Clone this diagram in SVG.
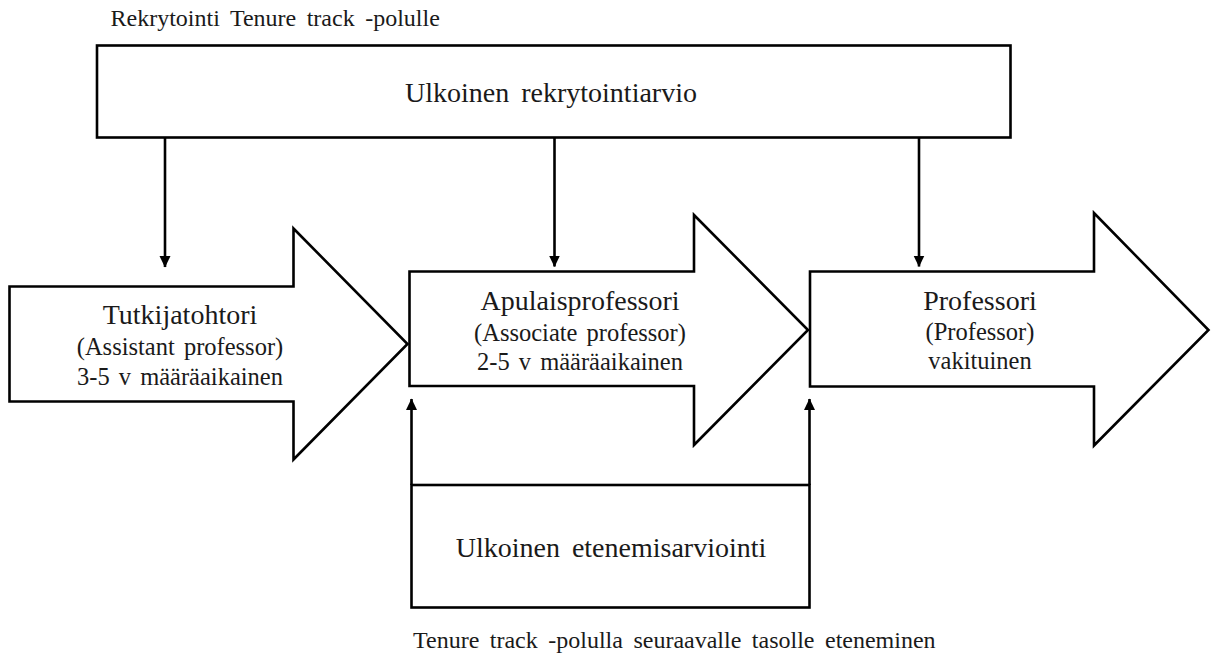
<svg xmlns="http://www.w3.org/2000/svg" width="1211" height="657" viewBox="0 0 1211 657">
  <style>
    .shape { fill: #ffffff; stroke: #000000; stroke-width: 2.6; stroke-linejoin: miter; }
    .line { fill: none; stroke: #000000; stroke-width: 2.6; }
    .t { font-family: "Liberation Serif", "Times New Roman", serif; fill: #1a1a1a; }
    .title { font-size: 28px; text-anchor: middle; word-spacing: 5px; }
    .sub { font-size: 24.5px; text-anchor: middle; word-spacing: 3px; }
    .cap { font-size: 24px; word-spacing: 4.5px; }
  </style>
  <defs>
    <marker id="ah" markerUnits="userSpaceOnUse" markerWidth="12" markerHeight="12" viewBox="0 0 12 12" refX="11" refY="6" orient="auto">
      <path d="M0,0.5 L11.5,6 L0,11.5 Z" fill="#000000"/>
    </marker>
  </defs>
  <rect width="1211" height="657" fill="#ffffff"/>

  <text class="t cap" x="110.5" y="26">Rekrytointi Tenure track -polulle</text>

  <g id="recruit">
    <rect class="shape" x="97" y="45.5" width="913.5" height="92"/>
    <text class="t title" x="551" y="101.5">Ulkoinen rekrytointiarvio</text>
  </g>

  <g id="tutkijatohtori">
    <path class="shape" d="M9.5,286.5 H293.5 V228.5 L407.5,344 L293.5,459.5 V401.5 H9.5 Z"/>
    <text class="t title" x="180" y="324">Tutkijatohtori</text>
    <text class="t sub" x="180" y="354.5">(Assistant professor)</text>
    <text class="t sub" x="180" y="384.5">3-5 v määräaikainen</text>
  </g>

  <g id="apulaisprofessori">
    <path class="shape" d="M409.5,271.5 H694 V215 L808,330 L694,445 V386 H409.5 Z"/>
    <text class="t title" x="580" y="309.5">Apulaisprofessori</text>
    <text class="t sub" x="580" y="341">(Associate professor)</text>
    <text class="t sub" x="580" y="369.5">2-5 v määräaikainen</text>
  </g>

  <g id="professori">
    <path class="shape" d="M810,271.5 H1094 V213 L1208.5,330 L1094,445.5 V386.5 H810 Z"/>
    <text class="t title" x="980" y="309.5">Professori</text>
    <text class="t sub" x="980" y="339.5">(Professor)</text>
    <text class="t sub" x="980" y="369">vakituinen</text>
  </g>

  <g id="advance">
    <rect class="shape" x="411.5" y="485" width="398" height="122.5"/>
    <text class="t title" x="611" y="557">Ulkoinen etenemisarviointi</text>
  </g>

  <g id="connectors">
    <line class="line" x1="165" y1="137.5" x2="165" y2="267" marker-end="url(#ah)"/>
    <line class="line" x1="554.5" y1="137.5" x2="554.5" y2="266.5" marker-end="url(#ah)"/>
    <line class="line" x1="919" y1="137.5" x2="919" y2="266.5" marker-end="url(#ah)"/>
    <line class="line" x1="411.5" y1="485" x2="411.5" y2="399" marker-end="url(#ah)"/>
    <line class="line" x1="809.5" y1="485" x2="809.5" y2="399" marker-end="url(#ah)"/>
  </g>

  <text class="t cap" x="413" y="648">Tenure track -polulla seuraavalle tasolle eteneminen</text>
</svg>
